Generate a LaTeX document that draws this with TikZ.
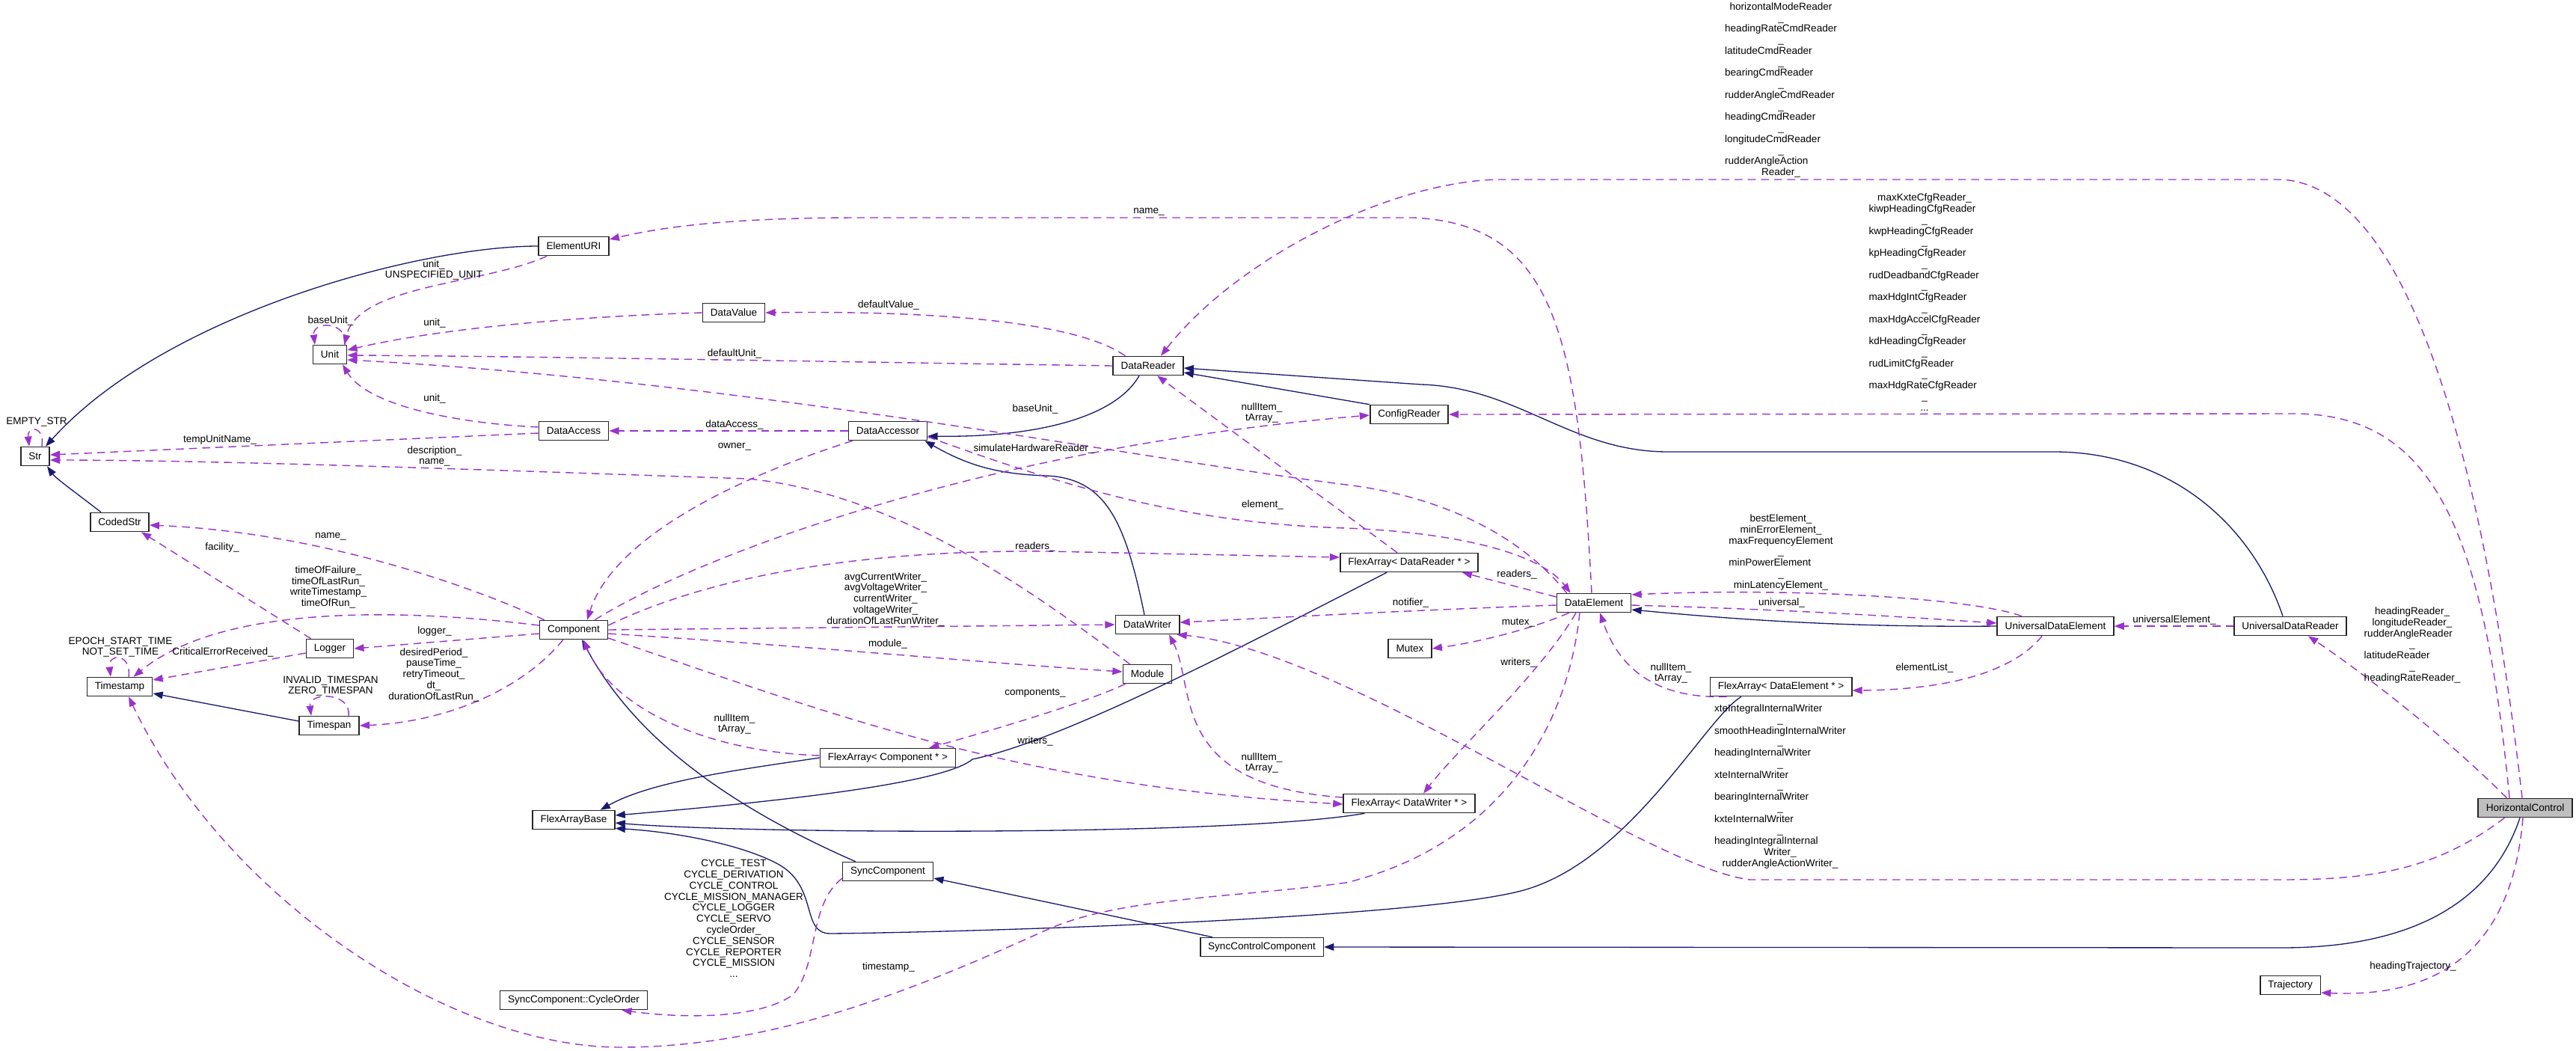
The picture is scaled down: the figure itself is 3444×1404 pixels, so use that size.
\documentclass[tikz,border=0pt]{standalone}
\usepackage{fontspec}
\setmainfont{Liberation Sans}
\usepackage{tikz}
\usetikzlibrary{
  % filled triangle tips
  arrows.meta,%
  calc
}
\definecolor{inhblue}{HTML}{191970}
\definecolor{usepurple}{HTML}{9A32CD}
\newcommand{\lblfont}{\fontsize{7.7}{8.4}\selectfont}
\newcommand{\cl}[1]{\multicolumn{1}{@{}c@{}}{#1}}
\tikzset{>={Triangle[length=7.5pt,width=5.5pt]}}
\tikzset{
  cls/.style={draw=black!85, line width=0.9pt, fill=white, font=\lblfont,
    inner xsep=0.21cm, inner ysep=0pt, minimum height=0.5cm},
  inhedge/.style={->, color=inhblue, line width=0.75pt},
  usedge/.style={->, color=usepurple, line width=0.8pt, dash pattern=on 6pt off 4pt},
  lbl/.style={font=\lblfont, inner sep=0pt, align=center},
  lbltab/.style={font=\lblfont, inner sep=0pt},
}

\begin{document}
\begin{tikzpicture}[x=0.02cm, y=-0.02cm]
  \useasboundingbox (0,0) rectangle (3444,1404);

  % classes
  \node[cls] (str) at (47,610) {Str};
  \node[cls] (elemuri) at (767,329) {ElementURI};
  \node[cls] (unit) at (441,474) {Unit};
  \node[cls] (datavalue) at (981,418) {DataValue};
  \node[cls] (dataaccess) at (767,576) {DataAccess};
  \node[cls] (dataaccessor) at (1187,576) {DataAccessor};
  \node[cls] (datareader) at (1535,489) {DataReader};
  \node[cls] (configreader) at (1884,554) {ConfigReader};
  \node[cls] (codedstr) at (160,698) {CodedStr};
  \node[cls] (component) at (767,842) {Component};
  \node[cls] (logger) at (441,867) {Logger};
  \node[cls] (timestamp) at (160,918) {Timestamp};
  \node[cls] (timespan) at (440,970) {Timespan};
  \node[cls] (datawriter) at (1534,835) {DataWriter};
  \node[cls] (module) at (1534,901) {Module};
  \node[cls] (fadr) at (1884,752) {FlexArray< DataReader * >};
  \node[cls] (dataelement) at (2131,806) {DataElement};
  \node[cls] (mutex) at (1885,867) {Mutex};
  \node[cls] (facc) at (1187,1013) {FlexArray< Component * >};
  \node[cls] (fab) at (767,1096) {FlexArrayBase};
  \node[cls] (fadw) at (1884,1074) {FlexArray< DataWriter * >};
  \node[cls] (fade) at (2381,918) {FlexArray< DataElement * >};
  \node[cls] (synccomp) at (1187,1165) {SyncComponent};
  \node[cls] (syncctrl) at (1687,1266) {SyncControlComponent};
  \node[cls] (cycleorder) at (767,1337) {SyncComponent::CycleOrder};
  \node[cls] (ude) at (2748,837) {UniversalDataElement};
  \node[cls] (udr) at (3062,837) {UniversalDataReader};
  \node[cls, fill=black!25] (hc) at (3376,1080) {HorizontalControl};
  \node[cls] (traj) at (3062,1317) {Trajectory};

  % inheritance
  \draw[inhedge] (elemuri.west) .. controls (560,329) and (220,420) .. ($(str.north)+(14,0)$);
  \draw[inhedge] ($(codedstr.north)+(-25,0)$) .. controls (110,665) and (75,640) .. ($(str.south)+(16,0)$);
  \draw[inhedge] ($(timespan.west)+(0,-6)$) -- ($(timestamp.east)+(0,9)$);
  \draw[inhedge] ($(datareader.south)+(-12,0)$) .. controls (1490,560) and (1380,585) .. ($(dataaccessor.east)+(0,7)$);
  \draw[inhedge] ($(datawriter.north)+(-4,0)$) .. controls (1505,700) and (1480,640) .. (1400,636)
    .. controls (1330,634) and (1290,620) .. ($(dataaccessor.south east)+(-4,0)$);
  \draw[inhedge] (configreader.north west) -- ($(datareader.east)+(0,9)$);
  \draw[inhedge] ($(udr.north)+(-10,0)$) .. controls (3010,700) and (2900,604) .. (2746,604) -- (2230,604)
    .. controls (2100,604) and (2030,518) .. (1900,514) -- ($(datareader.east)+(0,3)$);
  \draw[inhedge] (ude.west) .. controls (2450,839) and (2300,826) .. ($(dataelement.east)+(0,9)$);
  \draw[inhedge] (facc.west) .. controls (980,1030) and (870,1045) .. ($(fab.north east)+(-20,0)$);
  \draw[inhedge] ($(fadr.south)+(-30,0)$) .. controls (1650,870) and (1420,990) .. (1300,1015)
    .. controls (1260,1050) and (1000,1075) .. ($(fab.east)+(0,-6)$);
  \draw[inhedge] ($(fadw.south west)+(29,0)$) .. controls (1650,1118) and (1000,1115) .. ($(fab.east)+(0,4)$);
  \draw[inhedge] ($(fade.south)+(-53,0)$) .. controls (2280,960) and (2180,1150) .. (2037,1190)
    .. controls (1900,1228) and (1300,1246) .. (1110,1248)
    .. controls (1070,1248) and (1095,1185) .. (1040,1155)
    .. controls (990,1128) and (900,1112) .. ($(fab.south east)+(0,-2)$);
  \draw[inhedge] ($(synccomp.north west)+(18,0)$) .. controls (980,1080) and (850,990) .. ($(component.south)+(11,0)$);
  \draw[inhedge] ($(syncctrl.north west)+(17,0)$) -- ($(synccomp.east)+(0,9)$);
  \draw[inhedge] ($(hc.south)+(-7,0)$) .. controls (3340,1180) and (3260,1267) .. (3050,1267) -- (syncctrl.east);

  % self references
  \draw[usedge] ($(str.north)+(9,0)$) .. controls ($(str.north)+(13,-28)$) and ($(str.north)+(-11,-28)$) .. ($(str.north)+(-8,0)$);
  \draw[usedge] ($(unit.north)+(20,0)$) .. controls ($(unit.north)+(24,-32)$) and ($(unit.north)+(-24,-32)$) .. ($(unit.north)+(-20,0)$);
  \draw[usedge] ($(timestamp.north)+(12,0)$) .. controls ($(timestamp.north)+(16,-32)$) and ($(timestamp.north)+(-16,-32)$) .. ($(timestamp.north)+(-12,0)$);
  \draw[usedge] ($(timespan.north)+(26,0)$) .. controls ($(timespan.north)+(30,-32)$) and ($(timespan.north)+(-28,-32)$) .. ($(timespan.north)+(-24,0)$);

  % members
  \draw[usedge] ($(elemuri.south west)+(12,0)$) .. controls (650,380) and (480,380) .. ($(unit.north east)+(-4,0)$);
  \draw[usedge] (datavalue.west) .. controls (800,422) and (600,436) .. ($(unit.east)+(0,-6)$);
  \draw[usedge] (datareader.west) .. controls (1200,485) and (700,476) .. ($(unit.east)+(0,1)$);
  \draw[usedge] ($(dataelement.north west)+(14,0)$) .. controls (2020,700) and (1900,660) .. (1800,648)
    .. controls (1500,610) and (1000,510) .. ($(unit.east)+(0,7)$);
  \draw[usedge] ($(dataaccess.west)+(0,-5)$) .. controls (600,565) and (490,540) .. ($(unit.south)+(17,0)$);
  \draw[usedge] ($(dataaccess.west)+(0,3)$) -- ($(str.east)+(0,-2)$);
  \draw[usedge] ($(module.north west)+(10,0)$) .. controls (1380,790) and (1200,660) .. (1000,640)
    .. controls (700,630) and (300,615) .. ($(str.east)+(0,5)$);
  \draw[usedge] ($(component.north west)+(7,0)$) .. controls (600,770) and (400,710) .. ($(codedstr.east)+(0,4)$);
  \draw[usedge] ($(logger.north west)+(7,0)$) -- ($(codedstr.south)+(29,0)$);
  \draw[usedge] ($(component.west)+(0,-6)$) .. controls (550,815) and (300,805) .. ($(timestamp.north east)+(-26,0)$);
  \draw[usedge] ($(logger.west)+(0,6)$) -- ($(timestamp.east)+(0,-9)$);
  \draw[usedge] ($(component.west)+(0,5)$) -- (logger.east);
  \draw[usedge] ($(component.south west)+(32,0)$) .. controls (700,920) and (600,965) .. (timespan.east);
  \draw[usedge] ($(dataaccessor.south west)+(6,0)$) .. controls (980,640) and (820,720) .. ($(component.north)+(18,0)$);
  \draw[usedge] (dataaccessor.west) -- (dataaccess.east);
  \draw[usedge] ($(datareader.north west)+(17,0)$) .. controls (1440,430) and (1250,415) .. (datavalue.east);
  \draw[usedge] ($(dataelement.north)+(-3,0)$) .. controls (2110,450) and (2080,300) .. (1890,291) -- (1150,291)
    .. controls (1000,291) and (900,300) .. ($(elemuri.east)+(0,-9)$);
  \draw[usedge] ($(hc.north)+(-4,0)$) .. controls (3330,700) and (3240,250) .. (3050,240) -- (2000,240)
    .. controls (1850,245) and (1650,350) .. ($(datareader.north)+(17,0)$);
  \draw[usedge] ($(hc.north)+(-21,0)$) .. controls (3320,700) and (3250,553) .. (3066,553) -- (configreader.east);
  \draw[usedge] ($(hc.north west)+(39,0)$) .. controls (3270,985) and (3160,900) .. ($(udr.south)+(24,0)$);
  \draw[usedge] ($(hc.south west)+(36,0)$) .. controls (3260,1160) and (3180,1176) .. (3050,1176) -- (2340,1176)
    .. controls (2200,1160) and (1800,870) .. ($(datawriter.south east)+(-4,0)$);
  \draw[usedge] ($(hc.south)+(-3,0)$) .. controls (3360,1250) and (3280,1335) .. ($(traj.east)+(0,10)$);
  \draw[usedge] (udr.west) -- (ude.east);
  \draw[usedge] ($(ude.south)+(-18,0)$) .. controls (2690,900) and (2600,922) .. ($(fade.east)+(0,5)$);
  \draw[usedge] ($(ude.north)+(-45,0)$) .. controls (2640,800) and (2400,785) .. ($(dataelement.east)+(0,-11)$);
  \draw[usedge] ($(dataelement.east)+(0,3)$) .. controls (2400,815) and (2550,825) .. ($(ude.west)+(0,-4)$);
  \draw[usedge] ($(fade.south west)+(23,0)$) .. controls (2200,935) and (2160,880) .. ($(dataelement.south)+(8,0)$);
  \draw[usedge] ($(dataelement.west)+(0,-8)$) -- ($(fadr.south east)+(-22,0)$);
  \draw[usedge] ($(dataelement.west)+(0,3)$) .. controls (1900,815) and (1700,826) .. ($(datawriter.east)+(0,-3)$);
  \draw[usedge] ($(dataelement.south west)+(17,0)$) .. controls (2050,840) and (1980,858) .. (mutex.east);
  \draw[usedge] ($(dataelement.south)+(-24,0)$) .. controls (2060,900) and (1950,1000) .. ($(fadw.north)+(19,0)$);
  \draw[usedge] ($(dataelement.south)+(-19,0)$) .. controls (2095,980) and (2000,1130) .. (1800,1180)
    .. controls (1650,1200) and (1500,1200) .. (1404,1241)
    .. controls (1250,1310) and (1050,1400) .. (830,1400)
    .. controls (600,1400) and (300,1200) .. ($(timestamp.south)+(12,0)$);
  \draw[usedge] ($(component.north east)+(-18,0)$) .. controls (920,750) and (1300,600) .. ($(configreader.west)+(0,1)$);
  \draw[usedge] ($(fadr.north)+(-16,0)$) -- ($(datareader.south)+(12,0)$);
  \draw[usedge] ($(dataaccessor.east)+(0,8)$) .. controls (1450,660) and (1600,700) .. (1800,706)
    .. controls (1950,712) and (2060,740) .. ($(dataelement.north west)+(19,0)$);
  \draw[usedge] ($(component.east)+(0,-6)$) .. controls (950,770) and (1150,735) .. (1400,737) -- ($(fadr.west)+(0,-7)$);
  \draw[usedge] (component.east) -- (datawriter.west);
  \draw[usedge] ($(component.east)+(0,5)$) .. controls (1100,865) and (1300,885) .. ($(module.west)+(0,-3)$);
  \draw[usedge] ($(module.south west)+(4,0)$) .. controls (1450,940) and (1330,975) .. ($(facc.north east)+(-36,0)$);
  \draw[usedge] ($(component.east)+(0,11)$) .. controls (1100,950) and (1350,1050) .. ($(fadw.west)+(0,1)$);
  \draw[usedge] ($(fadw.west)+(0,-8)$) .. controls (1560,1050) and (1600,920) .. ($(datawriter.south)+(29,0)$);
  \draw[usedge] ($(facc.west)+(0,-3)$) .. controls (950,1005) and (820,950) .. ($(component.south)+(13,0)$);
  \draw[usedge] ($(synccomp.south west)+(0,-4)$) .. controls (1080,1210) and (1095,1290) .. (1060,1330)
    .. controls (1010,1365) and (900,1360) .. ($(cycleorder.south east)+(-35,0)$);

  % edge labels
  \node[lbl] (lemptystr) at (49,564) {EMPTY\_STR};
  \node[lbl] (luriunit) at (580,361) {unit\_\\UNSPECIFIED\_UNIT};
  \node[lbl] (lbaseunitloop) at (442,429) {baseUnit\_};
  \node[lbl] (ldvunit) at (581,432) {unit\_};
  \node[lbl] (ldefaultunit) at (982,473) {defaultUnit\_};
  \node[lbl] (ldaunit) at (581,533) {unit\_};
  \node[lbl] (ltempunit) at (294,588) {tempUnitName\_};
  \node[lbl] (ldescname) at (581,610) {description\_\\name\_};
  \node[lbl] (lcodedname) at (442,717) {name\_};
  \node[lbl] (lfacility) at (297,732) {facility\_};
  \node[lbl] (ltimes) at (439,785) {timeOfFailure\_\\timeOfLastRun\_\\writeTimestamp\_\\timeOfRun\_};
  \node[lbl] (lepoch) at (161,865) {EPOCH\_START\_TIME\\NOT\_SET\_TIME};
  \node[lbl] (lcritical) at (298,872) {CriticalErrorReceived\_};
  \node[lbl] (llogger) at (581,844) {logger\_};
  \node[lbl] (lperiods) at (580,902) {desiredPeriod\_\\pauseTime\_\\retryTimeout\_\\dt\_\\durationOfLastRun\_};
  \node[lbl] (linvalid) at (442,917) {INVALID\_TIMESPAN\\ZERO\_TIMESPAN};
  \node[lbl] (ldefaultvalue) at (1188,408) {defaultValue\_};
  \node[lbl] (ldataaccess) at (982,568) {dataAccess\_};
  \node[lbl] (lowner) at (982,597) {owner\_};
  \node[lbl] (lbaseunit) at (1384,547) {baseUnit\_};
  \node[lbl] (lsimhw) at (1382,600) {simulateHardwareReader\_};
  \node[lbl] (lfadrnull) at (1687,552) {nullItem\_\\tArray\_};
  \node[lbl] (lelement) at (1688,675) {element\_};
  \node[lbl] (lreaderscomp) at (1384,731) {readers\_};
  \node[lbl] (lwriters) at (1184,801) {avgCurrentWriter\_\\avgVoltageWriter\_\\currentWriter\_\\voltageWriter\_\\durationOfLastRunWriter\_};
  \node[lbl] (lmodule) at (1187,861) {module\_};
  \node[lbl] (lcomponents) at (1384,927) {components\_};
  \node[lbl] (lfaccnull) at (982,968) {nullItem\_\\tArray\_};
  \node[lbl] (lwriterscomp) at (1384,991) {writers\_};
  \node[lbl] (lfadwnull) at (1687,1020) {nullItem\_\\tArray\_};
  \node[lbl] (lcycle) at (981,1228) {CYCLE\_TEST\\CYCLE\_DERIVATION\\CYCLE\_CONTROL\\CYCLE\_MISSION\_MANAGER\\CYCLE\_LOGGER\\CYCLE\_SERVO\\cycleOrder\_\\CYCLE\_SENSOR\\CYCLE\_REPORTER\\CYCLE\_MISSION\\...};
  \node[lbl] (ltimestamp) at (1188,1293) {timestamp\_};
  \node[lbl] (lnamede) at (1536,283) {name\_};
  \node[lbl] (lreadersde) at (2028,768) {readers\_};
  \node[lbl] (lnotifier) at (1886,806) {notifier\_};
  \node[lbl] (lmutex) at (2030,832) {mutex\_};
  \node[lbl] (lwritersde) at (2030,886) {writers\_};
  \node[lbl] (lfadenull) at (2234,900) {nullItem\_\\tArray\_};
  \node[lbltab] (lbest) at (2381,739) {\begin{tabular}{@{}l@{}}
    \cl{bestElement\_}\\ \cl{minErrorElement\_}\\ maxFrequencyElement\\ \cl{\_}\\
    minPowerElement\\ \cl{\_}\\ \cl{minLatencyElement\_}\end{tabular}};
  \node[lbl] (luniversal) at (2382,806) {universal\_};
  \node[lbl] (lelementlist) at (2573,893) {elementList\_};
  \node[lbl] (luniversalelement) at (2907,829) {universalElement\_};
  \node[lbltab] (ludr) at (3225,863) {\begin{tabular}{@{}l@{}}
    \cl{headingReader\_}\\ \cl{longitudeReader\_}\\ rudderAngleReader\\ \cl{\_}\\
    latitudeReader\\ \cl{\_}\\ headingRateReader\_\end{tabular}};
  \node[lbltab] (lhcwriters) at (2380,1052) {\begin{tabular}{@{}l@{}}
    xteIntegralInternalWriter\\ \cl{\_}\\ smoothHeadingInternalWriter\\ \cl{\_}\\
    headingInternalWriter\\ \cl{\_}\\ xteInternalWriter\\ \cl{\_}\\
    bearingInternalWriter\\ \cl{\_}\\ kxteInternalWriter\\ \cl{\_}\\
    headingIntegralInternal\\ \cl{Writer\_}\\ \cl{rudderAngleActionWriter\_}\end{tabular}};
  \node[lbltab] (lcmdreaders) at (2381,121) {\begin{tabular}{@{}l@{}}
    \cl{horizontalModeReader}\\ \cl{\_}\\ headingRateCmdReader\\ \cl{\_}\\
    latitudeCmdReader\\ \cl{\_}\\ bearingCmdReader\\ \cl{\_}\\
    rudderAngleCmdReader\\ \cl{\_}\\ headingCmdReader\\ \cl{\_}\\
    longitudeCmdReader\\ \cl{\_}\\ rudderAngleAction\\ \cl{Reader\_}\end{tabular}};
  \node[lbltab] (lcfgreaders) at (2573,406) {\begin{tabular}{@{}l@{}}
    \cl{maxKxteCfgReader\_}\\ kiwpHeadingCfgReader\\ \cl{\_}\\ kwpHeadingCfgReader\\ \cl{\_}\\
    kpHeadingCfgReader\\ \cl{\_}\\ rudDeadbandCfgReader\\ \cl{\_}\\ maxHdgIntCfgReader\\ \cl{\_}\\
    maxHdgAccelCfgReader\\ \cl{\_}\\ kdHeadingCfgReader\\ \cl{\_}\\ rudLimitCfgReader\\ \cl{\_}\\
    maxHdgRateCfgReader\\ \cl{\_}\\ \cl{...}\end{tabular}};
  \node[lbl] (ltraj) at (3226,1292) {headingTrajectory\_};
\end{tikzpicture}
\end{document}
